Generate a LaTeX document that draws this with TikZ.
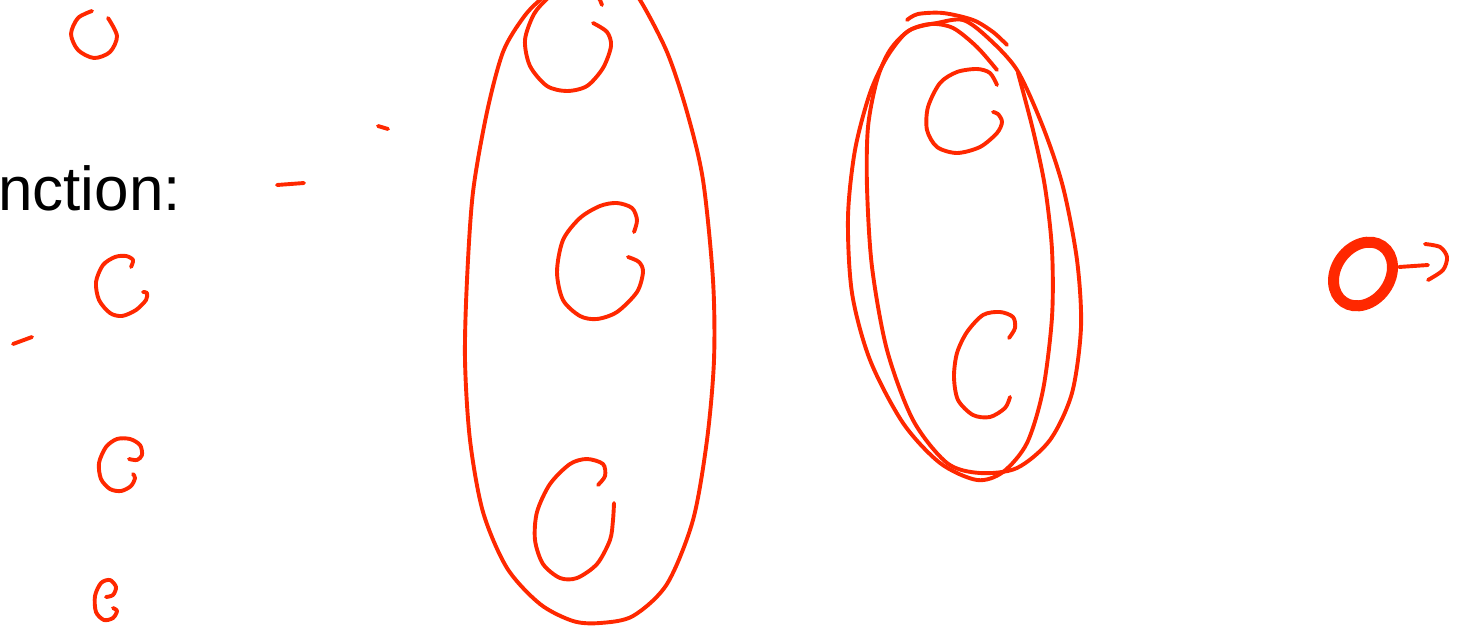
\documentclass[tikz,border=0pt]{standalone}
\usepackage{fontspec}
\setmainfont{Liberation Sans}
\usepackage{tikz}
\definecolor{penred}{RGB}{255,40,0}

\begin{document}
\begin{tikzpicture}[x=1pt, y=-1pt,
    ink/.style={draw=penred, line width=3.9pt, line cap=round, line join=round},
    heavyink/.style={draw=penred, line width=11pt},
    caption/.style={font=\fontsize{62}{70}\selectfont, inner sep=0pt, anchor=base west}
]
    \useasboundingbox (0,0) rectangle (1460,627);
    \clip (0,0) rectangle (1460,627);

    % Left column
    \node[caption] (fn) at (-2,210) {nction:};
    \draw[ink] plot[smooth] coordinates {(92,11) (78,18) (71,34) (78,50) (94,58) (110,52) (117,36) (108,18)};
    \draw[ink] plot[smooth] coordinates {(131,267) (133,260) (126,256) (115,257) (103,265) (96,282) (99,300) (110,313) (122,316) (136,310) (146,300) (147,293) (143,292)};
    \draw[ink] plot[smooth] coordinates {(129,459) (137,460) (142,455) (140,445) (130,439) (117,439) (106,447) (99,463) (101,479) (110,489) (121,491) (131,486) (135,478) (133,474)};
    \draw[ink] plot[smooth] coordinates {(106,597) (113,595) (116,587) (110,580) (101,583) (95,596) (96,612) (104,620) (113,618) (117,611) (113,608)};

    % Dashes
    \draw[ink] (378,126) -- (388,129);
    \draw[ink] (277,185) -- (304,183);
    \draw[ink] (13,344) -- (32,337);

    % Big loop
    \draw[ink] plot[smooth cycle] coordinates {(640,0) (667,52) (687,112) (703,180) (713,280) (714,360) (707,440) (693,520) (667,584) (633,616) (600,623) (573,621) (540,604) (507,568) (483,512) (470,440) (465,360) (467,280) (473,192) (487,112) (503,52) (523,18) (540,0) (565,-18) (600,-25) (625,-15)};
    \draw[ink] plot[smooth] coordinates {(565,-15) (548,-2) (534,14) (525,40) (530,66) (547,86) (567,91) (587,86) (603,68) (611,46) (607,32) (593,23)};
    \draw[ink] (594,-8) -- (600,0) -- (602,5);
    \draw[ink] plot[smooth] coordinates {(634,232) (637,220) (632,208) (617,203) (600,206) (580,218) (563,240) (557,272) (563,300) (580,316) (597,319) (617,312) (637,292) (643,272) (639,262) (628,257)};
    \draw[ink] plot[smooth] coordinates {(598,485) (605,476) (603,464) (587,459) (570,464) (550,484) (537,512) (535,540) (543,564) (560,578) (577,578) (597,564) (610,540) (613,520) (614,503)};

    % Second loop
    \draw[ink] plot[smooth] coordinates {(997,70) (977,47) (953,28) (930,24) (907,32) (887,57) (870,93) (855,150) (848,217) (852,293) (870,360) (903,423) (940,463) (977,480) (1003,472) (1027,443) (1043,390) (1052,317) (1052,250) (1045,187) (1033,130) (1018,73)};
    \draw[ink] plot[smooth cycle] coordinates {(937,23) (910,30) (890,50) (877,80) (868,127) (867,187) (872,267) (887,350) (913,420) (947,463) (980,473) (1017,468) (1050,440) (1072,393) (1081,327) (1077,260) (1063,187) (1043,127) (1017,70) (987,37) (963,20)};
    \draw[ink] plot[smooth] coordinates {(907,20) (918,14) (943,13) (973,20) (993,32) (1007,45)};
    \draw[ink] plot[smooth] coordinates {(997,85) (990,73) (977,69) (957,72) (940,83) (928,107) (927,130) (937,147) (957,153) (980,147) (997,133) (1002,122) (998,114) (993,112)};
    \draw[ink] plot[smooth] coordinates {(1009,338) (1015,328) (1013,317) (1000,312) (983,315) (967,332) (957,353) (954,377) (958,400) (973,415) (990,417) (1005,408) (1010,397)};

    % Right mark
    \draw[heavyink, rotate around={55:(1363,274)}] (1363,274) ellipse [x radius=34pt, y radius=27pt];
    \draw[ink] (1399,267) -- (1428,265);
    \draw[ink] plot[smooth] coordinates {(1425,244) (1440,247) (1447,257) (1443,270) (1428,280)};
\end{tikzpicture}
\end{document}
